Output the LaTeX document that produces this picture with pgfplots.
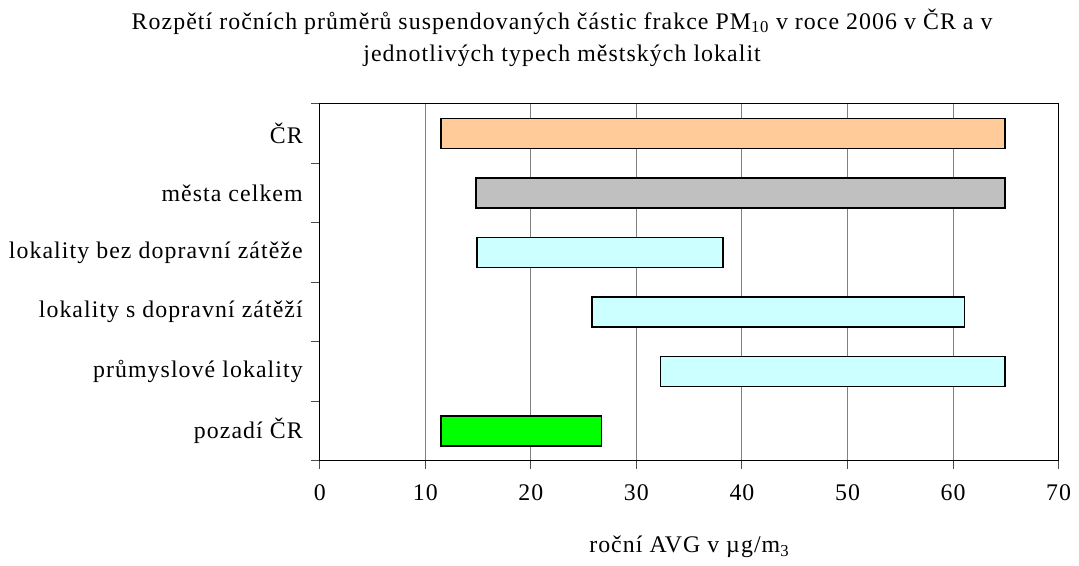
\documentclass[border=0pt]{standalone}
\usepackage{fontspec}
\setmainfont{Liberation Serif}[LetterSpace=4.5]
\usepackage{pgfplots}
\pgfplotsset{compat=1.18}
\usepackage{pgfplotstable}

% pos = poloha kategorie, start = minimum, dalsi sloupce = rozpeti (max - min) podle barvy
\pgfplotstableread{
pos start lor lsed lcyan lzel
5 11.5 53.4 0    0    0
4 14.8 0    50.1 0    0
3 14.9 0    0    23.3 0
2 25.8 0    0    35.3 0
1 32.3 0    0    32.6 0
0 11.5 0    0    0    15.2
}\rozpeti

\definecolor{cror}{RGB}{255,204,153}
\definecolor{csed}{RGB}{192,192,192}
\definecolor{ccyan}{RGB}{204,255,255}
\definecolor{czel}{RGB}{0,255,0}

\begin{document}
\fontsize{24bp}{28bp}\selectfont
\begin{tikzpicture}
\begin{axis}[
  scale only axis, width=744bp, height=359.5bp,
  xbar stacked, bar width=0.5,
  xmin=0, xmax=70, ymin=-0.5, ymax=5.5,
  xtick={0,10,...,70},
  xmajorgrids, grid style={draw=black!50, line width=1bp},
  ytick={0,...,5},
  yticklabels={pozadí ČR, průmyslové lokality, lokality s dopravní zátěží, lokality bez dopravní zátěže, města celkem, ČR},
  minor ytick={-0.5,0.5,...,5.5},
  major y tick style={draw=none},
  tick align=outside, xtick pos=bottom, ytick pos=left,
  major tick length=8bp, minor tick length=9bp,
  tick style={black!70, line width=1bp},
  axis line style={line width=1bp},
  /pgf/number format/assume math mode=true,
  xticklabel style={yshift=-8bp},
  yticklabel style={xshift=-1bp},
  xlabel={roční AVG v µg/m\textsubscript{3}},
  xlabel style={yshift=-19bp},
  title={Rozpětí ročních průměrů suspendovaných částic frakce PM\textsubscript{10} v roce 2006 v ČR a v\\jednotlivých typech městských lokalit},
  title style={align=center, font=\fontsize{24bp}{33bp}\selectfont, at={(rel axis cs:0.328,1.168)}, anchor=center},
  every axis plot/.append style={draw=black, line width=1.5bp},
]
\addplot[draw=none, fill=none] table[x=start, y=pos] {\rozpeti};
\addplot[fill=cror] table[x=lor, y=pos] {\rozpeti};
\addplot[fill=csed] table[x=lsed, y=pos] {\rozpeti};
\addplot[fill=ccyan] table[x=lcyan, y=pos] {\rozpeti};
\addplot[fill=czel] table[x=lzel, y=pos] {\rozpeti};
\end{axis}
\path[use as bounding box] (current axis.south west) ++(-322bp,-99bp) rectangle ++(1079bp,563bp);
\end{tikzpicture}
\end{document}
